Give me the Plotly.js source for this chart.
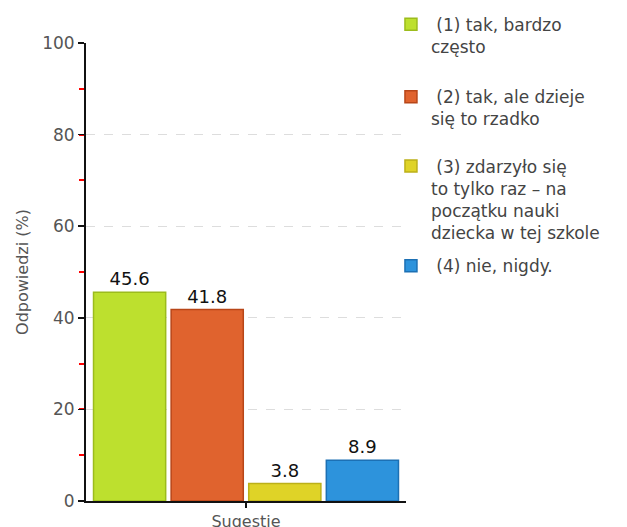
<!DOCTYPE html>
<html>
<head>
<meta charset="utf-8">
<script src="https://cdn.plot.ly/plotly-3.0.1.min.js"></script>
<style>
html,body{margin:0;padding:0;background:#fff;}
#chart{width:627px;height:527px;}
</style>
</head>
<body>
<div id="chart"></div>
<script>
const category = ['Sugestie'];
const seriesNames = [
  ' (1) tak, bardzo<br>często',
  ' (2) tak, ale dzieje<br>się to rzadko',
  ' (3) zdarzyło się<br>to tylko raz – na<br>początku nauki<br>dziecka w tej szkole',
  ' (4) nie, nigdy.'
];
const seriesValues = [45.6, 41.8, 3.8, 8.9];
const valueLabels = ['45.6', '41.8', '3.8', '8.9'];
const yTicks = [0, 20, 40, 60, 80, 100];

const fills = ['#bde02e', '#e0632e', '#dfd327', '#2d93dc'];
const borders = ['#9cbc1c', '#b84618', '#bcb018', '#1c70b4'];
const legendNames = ['legend', 'legend2', 'legend3', 'legend4'];
const legendY = [1.079, 0.921, 0.770, 0.552];

const FONT = 'DejaVu Sans, Verdana, sans-serif';

const traces = seriesValues.map((v, i) => ({
  type: 'bar',
  x: category,
  y: [v],
  name: seriesNames[i],
  text: [valueLabels[i]],
  textposition: 'outside',
  cliponaxis: false,
  textfont: {family: FONT, size: 18, color: '#111'},
  marker: {color: fills[i], line: {color: borders[i], width: 1.5}},
  legend: legendNames[i],
  hoverinfo: 'none'
}));

const layout = {
  width: 627, height: 527,
  margin: {l: 86, r: 221, t: 43, b: 26, autoexpand: false},
  paper_bgcolor: '#fff', plot_bgcolor: '#fff',
  font: {family: FONT, color: '#555'},
  barmode: 'group',
  bargap: 0.03,
  bargroupgap: 0.07,
  showlegend: true,
  xaxis: {
    showline: true, linecolor: '#111', linewidth: 2,
    ticks: 'outside', ticklen: 5, tickcolor: '#111', tickwidth: 1.5,
    tickfont: {family: FONT, size: 16, color: '#555'},
    showgrid: false, zeroline: false, fixedrange: true
  },
  yaxis: {
    range: [0, 100],
    tickvals: yTicks,
    ticktext: yTicks.map(String),
    showline: true, linecolor: '#111', linewidth: 2,
    ticks: 'outside', ticklen: 6, tickcolor: '#111', tickwidth: 1.5,
    tickfont: {family: FONT, size: 17, color: '#555'},
    showgrid: true, gridcolor: '#dddddd', griddash: 'dash', gridwidth: 1,
    zeroline: false,
    minor: {dtick: 10, ticks: 'outside', ticklen: 5, tickcolor: '#ff0000', tickwidth: 2, showgrid: false},
    title: {text: 'Odpowiedzi (%)', font: {family: FONT, size: 16, color: '#555'}, standoff: 10},
    fixedrange: true
  }
};

legendNames.forEach((ln, i) => {
  layout[ln] = {
    x: 0.953, xanchor: 'left', y: legendY[i], yanchor: 'top',
    yref: 'paper', valign: 'top',
    font: {family: FONT, size: 17, color: '#444'},
    bgcolor: 'rgba(0,0,0,0)', borderwidth: 0,
    itemwidth: 30
  };
});

Plotly.newPlot('chart', traces, layout, {staticPlot: true, displayModeBar: false});
</script>
</body>
</html>
